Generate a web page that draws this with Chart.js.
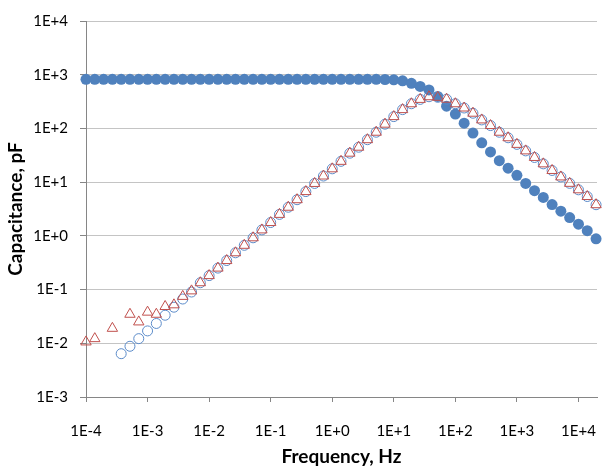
<!DOCTYPE html>
<html>
<head>
<meta charset="utf-8">
<script src="https://cdn.jsdelivr.net/npm/chart.js@4.4.1/dist/chart.umd.min.js"></script>
<style>
  html, body { margin: 0; padding: 0; background: #fff; }
  #wrap { width: 604px; height: 470px; }
</style>
</head>
<body>
<div id="wrap"><canvas id="capChart" width="604" height="470"></canvas></div>
<script>
// frequency sweep, 7 points per decade (Hz)
const freqHz = [
    1.000e-4, 1.389e-4, 1.931e-4, 2.683e-4, 3.728e-4, 5.179e-4, 7.197e-4,
    1.000e-3, 1.389e-3, 1.931e-3, 2.683e-3, 3.728e-3, 5.179e-3, 7.197e-3,
    1.000e-2, 1.389e-2, 1.931e-2, 2.683e-2, 3.728e-2, 5.179e-2, 7.197e-2,
    1.000e-1, 1.389e-1, 1.931e-1, 2.683e-1, 3.728e-1, 5.179e-1, 7.197e-1,
    1.000, 1.389, 1.931, 2.683, 3.728, 5.179, 7.197,
    10.00, 13.89, 19.31, 26.83, 37.28, 51.79, 71.97,
    100.0, 138.9, 193.1, 268.3, 372.8, 517.9, 719.7,
    1000, 1389, 1931, 2683, 3728, 5179, 7197,
    10000, 13890, 19310
];

// filled blue circles (pF)
const capFilled = [
    820, 820, 820, 820, 820, 820, 820,
    820, 820, 820, 820, 820, 820, 820,
    820, 820, 820, 820, 820, 820, 820,
    820, 820, 820, 820, 820, 820, 820,
    820, 820, 820, 820, 820, 820, 815,
    805, 768, 690, 605, 520, 394, 259,
    185, 125, 82, 54, 36.6, 25.1, 18.2,
    13.4, 9.46, 6.95, 5.19, 3.82, 2.88, 2.19,
    1.65, 1.25, 0.88
];

// hollow blue circles (pF)
const capHollow = [
    null, null, null, null, 0.0064, 0.0088, 0.0122,
    0.017, 0.0234, 0.0333, 0.047, 0.0667, 0.09, 0.134,
    0.182, 0.251, 0.347, 0.484, 0.667, 0.92, 1.29,
    1.77, 2.51, 3.41, 4.71, 6.67, 9.46, 13.0,
    17.7, 24.4, 34.6, 44.7, 61.7, 85, 120,
    166, 224, 288, 347, 389, 380, 350,
    288, 240, 192, 144, 113, 85, 67,
    50.5, 38.2, 28.8, 21.9, 16.5, 12.5, 9.5,
    7.2, 5.4, 3.8
];

// hollow red triangles (pF)
const capTriangle = [
    0.0106, 0.0122, null, 0.019, null, 0.0347, 0.025,
    0.038, 0.0347, 0.0484, 0.052, 0.0747, 0.0946, 0.134,
    0.182, 0.251, 0.347, 0.484, 0.667, 0.92, 1.29,
    1.77, 2.51, 3.41, 4.71, 6.67, 9.46, 13.0,
    17.7, 24.4, 34.6, 44.7, 61.7, 85, 120,
    166, 224, 288, 347, 389, 380, 350,
    288, 240, 192, 144, 113, 85, 67,
    50.5, 38.2, 28.8, 21.9, 16.5, 12.5, 9.5,
    7.2, 5.4, 3.8
];

const xTicks = [1e-4, 1e-3, 1e-2, 1e-1, 1e0, 1e1, 1e2, 1e3, 1e4];
const xTickLabels = ['1E-4', '1E-3', '1E-2', '1E-1', '1E+0', '1E+1', '1E+2', '1E+3', '1E+4'];
const yTicks = [1e-3, 1e-2, 1e-1, 1e0, 1e1, 1e2, 1e3, 1e4];
const yTickLabels = ['1E-3', '1E-2', '1E-1', '1E+0', '1E+1', '1E+2', '1E+3', '1E+4'];

function pares(valores) {
    const pts = [];
    for (let i = 0; i < freqHz.length; i++) {
        if (valores[i] !== null) pts.push({ x: freqHz[i], y: valores[i] });
    }
    return pts;
}

const fonte = 'Lato, "Open Sans", sans-serif';
const cinzaEixo = '#868686';

new Chart(document.getElementById('capChart').getContext('2d'), {
    type: 'scatter',
    data: {
        datasets: [
            {
                label: 'triangles',
                data: pares(capTriangle),
                pointStyle: 'triangle',
                pointRadius: 6,
                pointBorderWidth: 1,
                borderColor: '#C0504D',
                backgroundColor: 'rgba(255,255,255,0)',
                clip: false
            },
            {
                label: 'hollow',
                data: pares(capHollow),
                pointStyle: 'circle',
                pointRadius: 5,
                pointBorderWidth: 1,
                borderColor: '#5B8BC9',
                backgroundColor: 'rgba(255,255,255,0)',
                clip: false
            },
            {
                label: 'filled',
                data: pares(capFilled),
                pointStyle: 'circle',
                pointRadius: 5.5,
                pointBorderWidth: 0,
                borderColor: '#4F81BD',
                backgroundColor: '#4F81BD',
                clip: false
            }
        ]
    },
    options: {
        responsive: false,
        animation: false,
        layout: { padding: { top: 12, left: 0, right: 0, bottom: 0 } },
        plugins: {
            legend: { display: false },
            tooltip: { enabled: false }
        },
        scales: {
            x: {
                type: 'logarithmic',
                min: 1e-4,
                max: 2e4,
                afterBuildTicks: (axis) => { axis.ticks = xTicks.map(v => ({ value: v })); },
                afterFit: (s) => { s.height = 73; s.paddingLeft = 0; s.paddingRight = 0; },
                grid: { drawOnChartArea: false, drawTicks: true, tickLength: 5, color: cinzaEixo },
                border: { color: cinzaEixo },
                ticks: {
                    autoSkip: false,
                    maxRotation: 0,
                    padding: 20,
                    color: '#000',
                    font: { family: fonte, size: 15 },
                    callback: (value, index) => xTickLabels[index]
                },
                title: {
                    display: true,
                    text: 'Frequency, Hz',
                    color: '#000',
                    font: { family: fonte, size: 19, weight: 'bold' },
                    padding: { top: 0, bottom: 2 }
                }
            },
            y: {
                type: 'logarithmic',
                min: 1e-3,
                max: 1e4,
                afterBuildTicks: (axis) => { axis.ticks = yTicks.map(v => ({ value: v })); },
                afterFit: (s) => { s.width = 86; },
                grid: { color: '#C4C4C4', tickLength: 6, tickColor: cinzaEixo },
                border: { color: cinzaEixo },
                ticks: {
                    padding: 12,
                    color: '#000',
                    font: { family: fonte, size: 15 },
                    callback: (value, index) => yTickLabels[index]
                },
                title: {
                    display: true,
                    text: 'Capacitance, pF',
                    color: '#000',
                    font: { family: fonte, size: 19, weight: 'bold' },
                    padding: { top: 4, bottom: 0 }
                }
            }
        }
    }
});
</script>
</body>
</html>
